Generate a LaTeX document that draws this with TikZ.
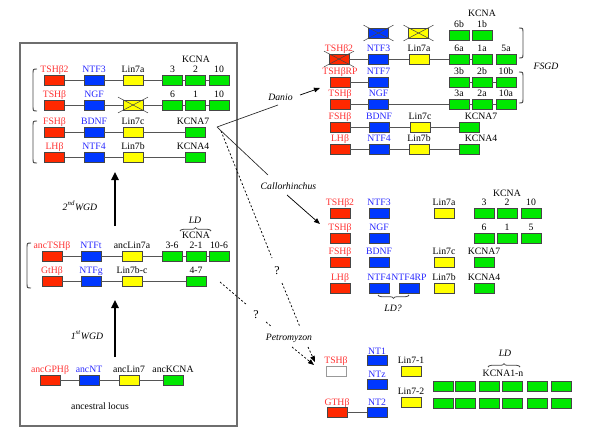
\documentclass[tikz,border=0pt]{standalone}
\usepackage{fontspec}
\setmainfont{Liberation Serif}
\usetikzlibrary{arrows.meta,calc,decorations.pathreplacing}
\definecolor{redf}{RGB}{255,40,0}
\definecolor{bluef}{RGB}{0,55,255}
\definecolor{yelf}{RGB}{255,255,0}
\definecolor{grnf}{RGB}{0,232,0}
\definecolor{redt}{RGB}{255,50,50}
\definecolor{bluet}{RGB}{40,40,255}
\definecolor{boxc}{RGB}{70,70,70}
\definecolor{linec}{RGB}{85,85,85}
\definecolor{framec}{RGB}{110,110,110}
\tikzset{
 gb/.style={draw=boxc, line width=0.55pt, minimum width=15pt, minimum height=7.3pt, inner sep=0pt, outer sep=0pt},
 rb/.style={gb, fill=redf}, bb/.style={gb, fill=bluef}, yb/.style={gb, fill=yelf},
 gnb/.style={gb, fill=grnf}, wb/.style={gb, fill=white, draw=gray!80},
 tl/.style={anchor=base, inner sep=0pt, text=black},
 rl/.style={tl, text=redt}, bll/.style={tl, text=bluet},
 it/.style={anchor=base, inner sep=0pt, font=\fontsize{7.3}{8.5}\selectfont\itshape},
 qm/.style={anchor=base, inner sep=0pt, font=\fontsize{9}{10}\selectfont},
 cn/.style={draw=linec, line width=0.6pt},
 sl/.style={draw=black!85, line width=0.5pt},
 xl/.style={draw=boxc, line width=0.4pt},
 dsh/.style={draw=black, line width=0.55pt, dash pattern=on 1.5pt off 1.5pt},
 brk/.style={draw=boxc, line width=0.7pt},
 wgd/.style={line width=2.2pt, -{Triangle[length=6pt,width=5.5pt]}},
 tarr/.style={draw=black, line width=0.55pt, -{Triangle[length=4.5pt,width=3.5pt]}},
 darr/.style={dsh, -{Triangle[length=4.5pt,width=3.5pt]}},
 br/.style={brk, line width=0.6pt, decorate, decoration={brace, amplitude=2.5pt}},
}
\newcommand\mkbox[4]{\node[#2] (#1) at (#3,#4) {};}
\newcommand\mkgene[6]{\node[#2] (#1) at (#3,#4) {};\node[#6] (#1-l) at (#3,#4-8) {#5};}
\newcommand\crossbox[1]{\draw[xl] ($(#1.north west)+(-5,-3)$) -- ($(#1.south east)+(5,3)$);\draw[xl] ($(#1.north east)+(5,-3)$) -- ($(#1.south west)+(-5,3)$);}
\newcommand\lbrk[3]{\draw[brk] (#1+4,#2) .. controls (#1,#2) .. (#1,#2+5) -- (#1,#3-5) .. controls (#1,#3) .. (#1+4,#3);}
\newcommand\rbrk[3]{\draw[brk] (#1-4,#2) .. controls (#1,#2) .. (#1,#2+5) -- (#1,#3-5) .. controls (#1,#3) .. (#1-4,#3);}
\begin{document}
\begin{tikzpicture}[x=0.75pt,y=-0.75pt,font=\fontsize{7.3}{8.5}\selectfont]
\useasboundingbox (0,0) rectangle (600,437);
% ---------------- left box ----------------
\draw[draw=framec, line width=0.9pt] (20,43) rectangle (237,426);
% row L1
\mkgene{l1r}{rb}{54.5}{80}{TSHβ2}{rl}
\mkgene{l1b}{bb}{94}{80}{NTF3}{bll}
\mkgene{l1y}{yb}{133}{80}{Lin7a}{tl}
\mkgene{l1g1}{gnb}{172.5}{80}{3}{tl}
\mkgene{l1g2}{gnb}{195.5}{80}{2}{tl}
\mkgene{l1g3}{gnb}{219}{80}{10}{tl}
\node[tl] (l1k) at (196,62) {KCNA};
\draw[cn] (l1r)--(l1b) (l1b)--(l1y) (l1y)--(l1g1) (l1g1)--(l1g2) (l1g2)--(l1g3);
% row L2
\mkgene{l2r}{rb}{54.5}{105}{TSHβ}{rl}
\mkgene{l2b}{bb}{94}{105}{NGF}{bll}
\mkbox{l2y}{yb}{133}{105}
\mkgene{l2g1}{gnb}{172.5}{105}{6}{tl}
\mkgene{l2g2}{gnb}{195.5}{105}{1}{tl}
\mkgene{l2g3}{gnb}{219}{105}{10}{tl}
\draw[cn] (l2r)--(l2b) (l2b)--(l2y) (l2y)--(l2g1) (l2g1)--(l2g2) (l2g2)--(l2g3);
\crossbox{l2y}
% row L3
\mkgene{l3r}{rb}{54.5}{132}{FSHβ}{rl}
\mkgene{l3b}{bb}{94}{132}{BDNF}{bll}
\mkgene{l3y}{yb}{133}{132}{Lin7c}{tl}
\mkbox{l3g}{gnb}{195.5}{132}
\node[tl] (l3gl) at (193,124) {KCNA7};
\draw[cn] (l3r)--(l3b) (l3b)--(l3y) (l3y)--(l3g);
% row L4
\mkgene{l4r}{rb}{54.5}{157}{LHβ}{rl}
\mkgene{l4b}{bb}{94}{157}{NTF4}{bll}
\mkgene{l4y}{yb}{133}{157}{Lin7b}{tl}
\mkbox{l4g}{gnb}{195.5}{157}
\node[tl] (l4gl) at (193,149) {KCNA4};
\draw[cn] (l4r)--(l4b) (l4b)--(l4y) (l4y)--(l4g);
\lbrk{33}{69}{111}
\lbrk{33}{121}{163}
% 2nd WGD
\coordinate (w2s) at (115,226);
\coordinate (w2e) at (115,172);
\draw[wgd] (w2s)--(w2e);
\node[it] (w2l) at (80,210) {2\textsuperscript{nd}WGD};
% row L5
\mkgene{l5r}{rb}{52}{256}{ancTSHβ}{rl}
\mkgene{l5b}{bb}{91}{256}{NTFt}{bll}
\mkgene{l5y}{yb}{132}{256}{ancLin7a}{tl}
\mkgene{l5g1}{gnb}{172}{256}{3-6}{tl}
\mkgene{l5g2}{gnb}{196}{256}{2-1}{tl}
\mkgene{l5g3}{gnb}{219}{256}{10-6}{tl}
\node[tl] (l5k) at (196,238) {KCNA};
\draw[br] (180,231) -- (211,231);
\node[it] (l5ld) at (195,223) {LD};
\draw[cn] (l5r)--(l5b) (l5b)--(l5y) (l5y)--(l5g1) (l5g1)--(l5g2) (l5g2)--(l5g3);
% row L6
\mkgene{l6r}{rb}{52}{281}{GtHβ}{rl}
\mkgene{l6b}{bb}{91}{281}{NTFg}{bll}
\mkgene{l6y}{yb}{132}{281}{Lin7b-c}{tl}
\mkgene{l6g}{gnb}{196}{281}{4-7}{tl}
\draw[cn] (l6r)--(l6b) (l6b)--(l6y) (l6y)--(l6g);
\lbrk{27}{243}{288}
% 1st WGD
\coordinate (w1s) at (115,357);
\coordinate (w1e) at (115,300);
\draw[wgd] (w1s)--(w1e);
\node[it] (w1l) at (87,339) {1\textsuperscript{st}WGD};
% row L7
\mkgene{l7r}{rb}{50}{380}{ancGPHβ}{rl}
\mkgene{l7b}{bb}{89}{380}{ancNT}{bll}
\mkgene{l7y}{yb}{129}{380}{ancLin7}{tl}
\mkgene{l7g}{gnb}{173}{380}{ancKCNA}{tl}
\draw[cn] (l7r)--(l7b) (l7b)--(l7y) (l7y)--(l7g);
\node[tl] (anc) at (100,409) {ancestral locus};
% ---------------- Danio ----------------
\mkbox{d0b}{bb}{378.5}{33}
\mkbox{d0y}{yb}{418.5}{33}
\crossbox{d0b}
\crossbox{d0y}
\mkgene{d1r}{rb}{339}{59}{TSHβ2}{rl}
\mkgene{d1b}{bb}{378.5}{59}{NTF3}{bll}
\mkgene{d1y}{yb}{419}{59}{Lin7a}{tl}
\mkgene{d1g1}{gnb}{459}{59}{6a}{tl}
\mkgene{d1g2}{gnb}{482}{59}{1a}{tl}
\mkgene{d1g3}{gnb}{506}{59}{5a}{tl}
\draw[cn] (d1r)--(d1b) (d1b)--(d1y) (d1y)--(d1g1) (d1g1)--(d1g2);
\crossbox{d1r}
\mkgene{d1h1}{gnb}{459}{35}{6b}{tl}
\mkgene{d1h2}{gnb}{482}{35}{1b}{tl}
\node[tl] (dk) at (482,16) {KCNA};
\mkgene{d2r}{rb}{340}{82.5}{TSHβRP}{rl}
\mkgene{d2b}{bb}{378.5}{82.5}{NTF7}{bll}
\mkgene{d2g1}{gnb}{459}{82.5}{3b}{tl}
\mkgene{d2g2}{gnb}{482}{82.5}{2b}{tl}
\mkgene{d2g3}{gnb}{506}{82.5}{10b}{tl}
\draw[cn] (d2r)--(d2b) (d2g1)--(d2g2) (d2g2)--(d2g3);
\mkgene{d3r}{rb}{340}{104}{TSHβ}{rl}
\mkgene{d3b}{bb}{378.5}{104}{NGF}{bll}
\mkgene{d3g1}{gnb}{459}{104}{3a}{tl}
\mkgene{d3g2}{gnb}{482}{104}{2a}{tl}
\mkgene{d3g3}{gnb}{506}{104}{10a}{tl}
\draw[cn] (d3r)--(d3b) (d3b)--(d3g1) (d3g1)--(d3g2) (d3g2)--(d3g3);
\mkgene{d4r}{rb}{340}{127}{FSHβ}{rl}
\mkgene{d4b}{bb}{379}{127}{BDNF}{bll}
\mkgene{d4y}{yb}{420}{127}{Lin7c}{tl}
\mkbox{d4g}{gnb}{469}{127}
\node[tl] (d4gl) at (481,119) {KCNA7};
\draw[cn] (d4r)--(d4b) (d4b)--(d4y) (d4y)--(d4g);
\mkgene{d5r}{rb}{340}{149}{LHβ}{rl}
\mkgene{d5b}{bb}{379}{149}{NTF4}{bll}
\mkgene{d5y}{yb}{419}{149}{Lin7b}{tl}
\mkbox{d5g}{gnb}{469}{149}
\node[tl] (d5gl) at (481,141) {KCNA4};
\draw[cn] (d5r)--(d5b) (d5b)--(d5y) (d5y)--(d5g);
\rbrk{523}{28}{58}
\rbrk{523}{72}{103}
\node[it] (fsgd) at (546,69) {FSGD};
% ---------------- species connectors ----------------
\coordinate (fan) at (217,127);
\coordinate (danE) at (278,105);
\coordinate (calE) at (268,175);
\node[it] (danio) at (280.5,100) {Danio};
\coordinate (da1) at (300,95);
\coordinate (da2) at (320,88);
\draw[sl] (fan)--(danE);
\draw[tarr] (da1)--(da2);
\node[it] (callo) at (288.5,189) {Callorhinchus};
\coordinate (ca1) at (287,195);
\coordinate (ca2) at (320,224);
\draw[sl] (fan)--(calE);
\draw[tarr] (ca1)--(ca2);
\coordinate (q1a) at (221,131);
\coordinate (q1b) at (272,258);
\coordinate (q1c) at (282,283);
\coordinate (q1d) at (300,327);
\draw[dsh] (q1a)--(q1b);
\node[qm] (q1) at (277,274) {?};
\draw[dsh] (q1c)--(q1d);
\coordinate (q2a) at (220,282);
\coordinate (q2b) at (247,305);
\coordinate (q2c) at (266,322);
\coordinate (q2d) at (272,327);
\draw[dsh] (q2a)--(q2b);
\node[qm] (q2) at (256,318) {?};
\draw[dsh] (q2c)--(q2d);
\node[it] (petro) at (289,340) {Petromyzon};
\coordinate (p1a) at (308,347);
\coordinate (p1b) at (315,362);
\coordinate (p2a) at (292,347);
\coordinate (p2b) at (314,365);
\draw[darr] (p1a)--(p1b);
\draw[darr] (p2a)--(p2b);
% ---------------- Callorhinchus ----------------
\mkgene{c1r}{rb}{340}{213}{TSHβ2}{rl}
\mkgene{c1b}{bb}{379}{213}{NTF3}{bll}
\mkgene{c1y}{yb}{444}{213}{Lin7a}{tl}
\mkgene{c1g1}{gnb}{484}{213}{3}{tl}
\mkgene{c1g2}{gnb}{507}{213}{2}{tl}
\mkgene{c1g3}{gnb}{531}{213}{10}{tl}
\node[tl] (ck) at (507,196) {KCNA};
\mkgene{c1h1}{gnb}{484}{238}{6}{tl}
\mkgene{c1h2}{gnb}{507}{238}{1}{tl}
\mkgene{c1h3}{gnb}{531}{238}{5}{tl}
\mkgene{c2r}{rb}{340}{238}{TSHβ}{rl}
\mkgene{c2b}{bb}{379}{238}{NGF}{bll}
\mkgene{c3r}{rb}{340}{262}{FSHβ}{rl}
\mkgene{c3b}{bb}{379}{262}{BDNF}{bll}
\mkgene{c3y}{yb}{444}{262}{Lin7c}{tl}
\mkgene{c3g}{gnb}{484}{262}{KCNA7}{tl}
\mkgene{c4r}{rb}{340}{288}{LHβ}{rl}
\mkgene{c4b}{bb}{379}{288}{NTF4}{bll}
\mkgene{c4b2}{bb}{409}{288}{NTF4RP}{bll}
\mkgene{c4y}{yb}{444}{288}{Lin7b}{tl}
\mkgene{c4g}{gnb}{484}{288}{KCNA4}{tl}
\draw[br] (409,295) -- (378,295);
\node[it] (cld) at (393,311) {LD?};
% ---------------- Petromyzon ----------------
\mkgene{p1}{wb}{336}{371}{TSHβ}{rl}
\node[bb] (pn1) at (377,360) {};
\node[bll] (pn1l) at (377,354) {NT1};
\node[bb] (pnz) at (377,384) {};
\node[bll] (pnzl) at (377,377) {NTz};
\mkgene{pl1}{yb}{411}{371}{Lin7-1}{tl}
\mkgene{pl2}{yb}{411}{402}{Lin7-2}{tl}
\node[rb] (pg) at (337,412) {};
\node[rl] (pgl) at (337,405) {GTHβ};
\node[bb] (pn2) at (377,412) {};
\node[bll] (pn2l) at (377,405) {NT2};
\draw[cn] (pg)--(pn2);
\foreach \i/\xx in {1/443,2/465.5,3/489,4/512.5,5/537,6/561.5}{
  \node[gnb] (pk1\i) at (\xx,386) {};
  \node[gnb] (pk2\i) at (\xx,403) {};
}
\node[tl] (pkl) at (503,376) {KCNA1-n};
\draw[br] (488,367) -- (520,367);
\node[it] (pld) at (505,356) {LD};
\end{tikzpicture}
\end{document}
